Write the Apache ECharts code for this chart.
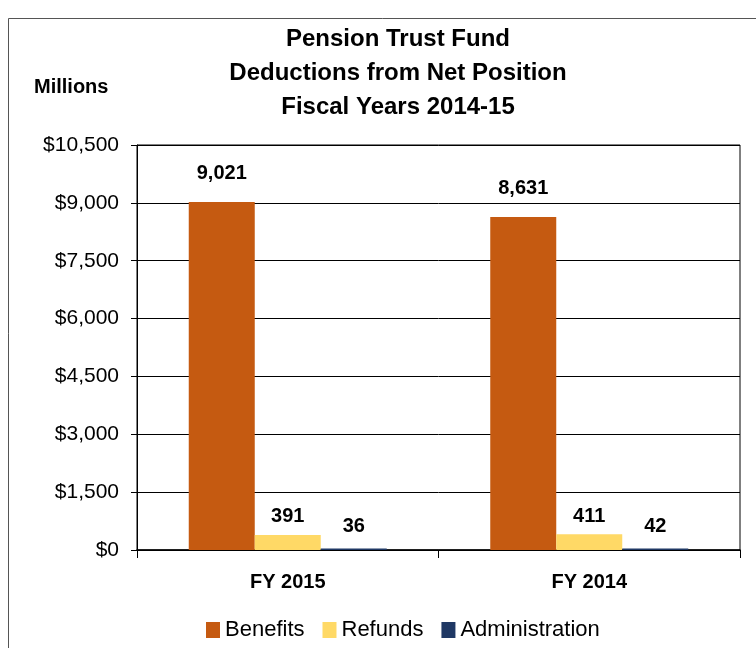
<!DOCTYPE html>
<html>
<head>
<meta charset="utf-8">
<script src="https://cdn.jsdelivr.net/npm/echarts@6/dist/echarts.min.js"></script>
<style>
  html, body { margin: 0; padding: 0; background: #fff; }
  #chart { width: 756px; height: 648px; }
</style>
</head>
<body>
<div id="chart"></div>
<script>
// 数据
const categories = ['FY 2015', 'FY 2014'];
const benefits = [9021, 8631];
const refunds = [391, 411];
const administration = [36, 42];

const FONT = 'Liberation Sans, sans-serif';

function fmtDollar(v) {
    return '$' + v.toLocaleString('en-US');
}

const dom = document.getElementById('chart');
const chart = echarts.init(dom);

function makeLabel(distance) {
    return {
        show: true,
        position: 'top',
        distance: distance,
        fontFamily: FONT,
        fontWeight: 'bold',
        fontSize: 20,
        color: '#000',
        formatter: p => p.value.toLocaleString('en-US')
    };
}

const option = {
    animation: false,
    textStyle: { fontFamily: FONT },
    title: {
        text: 'Pension Trust Fund\nDeductions from Net Position\nFiscal Years 2014-15',
        left: 393,
        textAlign: 'center',
        top: 17,
        textStyle: { fontFamily: FONT, fontWeight: 'bold', fontSize: 24, lineHeight: 34, color: '#000' }
    },
    graphic: [
        {
            type: 'rect',
            shape: { x: 8.5, y: 18.5, width: 800, height: 700 },
            style: { fill: 'none', stroke: '#555', lineWidth: 1 },
            silent: true
        },
        {
            type: 'text',
            left: 34,
            top: 77,
            style: { text: 'Millions', fontFamily: FONT, fontWeight: 'bold', fontSize: 20, fill: '#000' }
        }
    ],
    legend: {
        bottom: 2,
        left: 201,
        itemWidth: 14,
        itemHeight: 16,
        itemGap: 18,
        icon: 'rect',
        textStyle: { fontFamily: FONT, fontSize: 22, color: '#000' },
        data: ['Benefits', 'Refunds', 'Administration']
    },
    grid: { left: 137, right: 16, top: 145, bottom: 98, containLabel: false, show: true, borderColor: '#000', borderWidth: 1 },
    xAxis: {
        type: 'category',
        data: categories,
        axisLine: { lineStyle: { color: '#000', width: 1.5 } },
        axisTick: { show: true, alignWithLabel: false, length: 8, lineStyle: { color: '#000' } },
        axisLabel: { fontFamily: FONT, fontWeight: 'bold', fontSize: 20, color: '#000', margin: 22 }
    },
    yAxis: {
        type: 'value',
        min: 0,
        max: 10500,
        interval: 1500,
        axisLine: { show: true, lineStyle: { color: '#000' } },
        axisTick: { show: true, length: 6, lineStyle: { color: '#000' } },
        splitLine: { lineStyle: { color: '#000', width: 1 } },
        axisLabel: { fontFamily: FONT, fontSize: 21, color: '#000', margin: 18, formatter: fmtDollar }
    },
    series: [
        { name: 'Benefits', type: 'bar', data: benefits, barWidth: 66, barGap: '0%', itemStyle: { color: '#C55A11' }, label: makeLabel(19) },
        { name: 'Refunds', type: 'bar', data: refunds, barWidth: 66, barGap: '0%', itemStyle: { color: '#FFD966' }, label: makeLabel(8) },
        { name: 'Administration', type: 'bar', data: administration, barWidth: 66, barGap: '0%', itemStyle: { color: '#1F3864' }, label: makeLabel(12) }
    ]
};

chart.setOption(option);
</script>
</body>
</html>
